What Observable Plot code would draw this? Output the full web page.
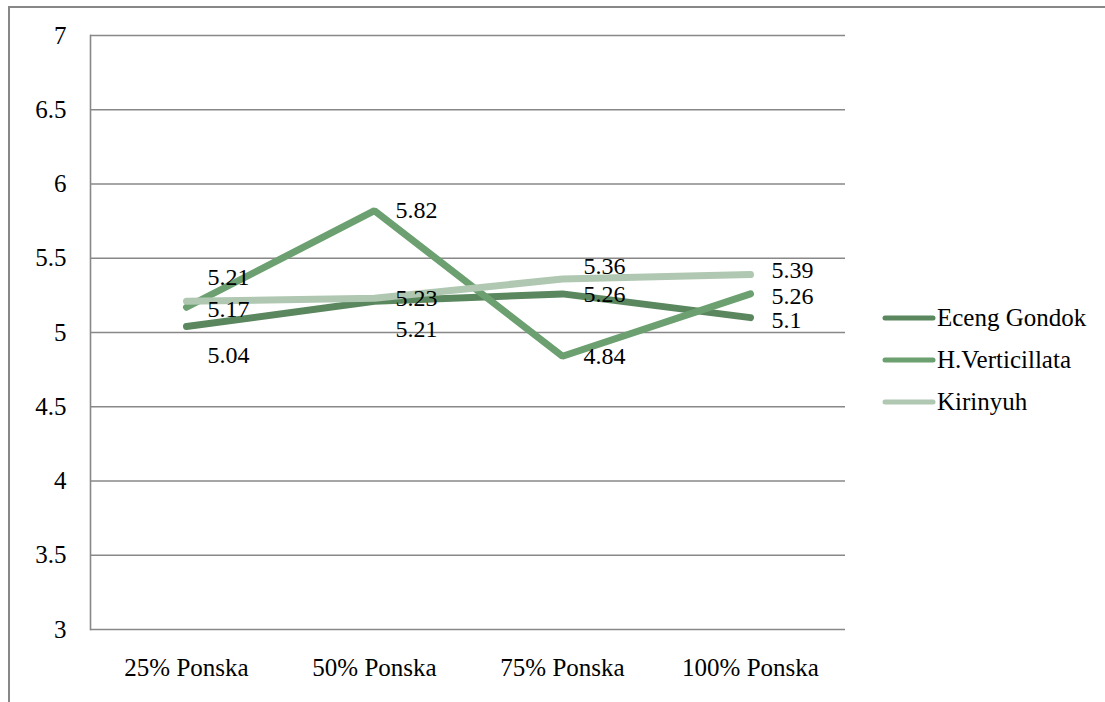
<!DOCTYPE html>
<html>
<head>
<meta charset="utf-8">
<script src="https://cdn.jsdelivr.net/npm/d3@7"></script>
<script src="https://cdn.jsdelivr.net/npm/@observablehq/plot@0.6"></script>
<style>
  html, body { margin: 0; padding: 0; background: #fff; overflow: hidden; }
  #wrap { position: relative; width: 1105px; height: 702px; font-family: "Times New Roman", Times, "Liberation Serif", "DejaVu Serif", "Noto Serif", serif; }
  #border { position: absolute; left: 8px; top: 6px; width: 1200px; height: 800px; border-left: 2px solid #888; border-top: 2px solid #888; box-sizing: border-box; }
  #chart { position: absolute; left: 0; top: 0; }
  #chart svg, #chart svg text { font-family: "Times New Roman", Times, "Liberation Serif", "DejaVu Serif", "Noto Serif", serif !important; }
  #legend { position: absolute; left: 882px; top: 297px; }
  .item { display: flex; align-items: center; height: 42px; font-size: 25px; color: #000; }
  .item svg { margin-right: 1px; }
</style>
</head>
<body>
<div id="wrap">
  <div id="border"></div>
  <div id="chart"></div>
  <div id="legend"></div>
</div>
<script>
const categories = ["25% Ponska", "50% Ponska", "75% Ponska", "100% Ponska"];
const seriesNames = ["Eceng Gondok", "H.Verticillata", "Kirinyuh"];
const ecengGondok = [5.04, 5.21, 5.26, 5.1];
const hVerticillata = [5.17, 5.82, 4.84, 5.26];
const kirinyuh = [5.21, 5.23, 5.36, 5.39];
const yTicks = [3, 3.5, 4, 4.5, 5, 5.5, 6, 6.5, 7];
const colors = ["#5b875f", "#6ca070", "#b0c8b2"];

const seriesValues = [ecengGondok, hVerticillata, kirinyuh];
const rows = [];
seriesNames.forEach((s, i) => {
  categories.forEach((c, j) => rows.push({series: s, category: c, value: seriesValues[i][j]}));
});

// label nudges (pixels) to mimic the reference's hand-placed data labels
const nudge = {
  "Kirinyuh|25% Ponska": -24,
  "H.Verticillata|25% Ponska": 2,
  "Eceng Gondok|25% Ponska": 29,
  "Eceng Gondok|50% Ponska": 28,
  "Kirinyuh|75% Ponska": -13,
  "Kirinyuh|100% Ponska": -4,
  "H.Verticillata|100% Ponska": 2,
  "Eceng Gondok|100% Ponska": 3
};

const font = "'Times New Roman', Times, 'Liberation Serif', 'DejaVu Serif', 'Noto Serif', serif";
const fs = 25;

const chart = Plot.plot({
  width: 1105,
  height: 702,
  marginLeft: 90,
  marginRight: 260,
  marginTop: 35,
  marginBottom: 73,
  style: {fontFamily: font, fontSize: fs + "px", color: "#000", background: "transparent"},
  x: {type: "band", domain: categories, padding: 0, label: null},
  y: {domain: [3, 7], label: null},
  color: {domain: seriesNames, range: colors},
  marks: [
    Plot.gridY(yTicks, {stroke: "#888", strokeOpacity: 1, strokeWidth: 1.6}),
    Plot.frame({anchor: "left", stroke: "#888", strokeWidth: 1.6}),
    Plot.axisY({ticks: yTicks, tickSize: 0, tickPadding: 24, tickFormat: d => String(d), fontSize: fs, fill: "#000"}),
    Plot.axisX({tickSize: 0, tickPadding: 29, fontSize: fs, fill: "#000"}),
    ...seriesNames.map((s, i) =>
      Plot.line(rows.filter(r => r.series === s), {
        x: "category", y: "value", stroke: colors[i], strokeWidth: 7,
        strokeLinecap: "round", strokeLinejoin: "miter"
      })
    ),
    ...rows.map(r => Plot.text([r], {
      x: "category", y: "value", text: d => String(d.value),
      textAnchor: "start", dx: 21, dy: nudge[r.series + "|" + r.category] || 0,
      fontSize: 24, fill: "#000"
    }))
  ]
});
document.getElementById("chart").appendChild(chart);

const legend = document.getElementById("legend");
seriesNames.forEach((s, i) => {
  const div = document.createElement("div");
  div.className = "item";
  div.innerHTML = `<svg width="54" height="10"><line x1="3" y1="5" x2="51" y2="5" stroke="${colors[i]}" stroke-width="5" stroke-linecap="round"/></svg><span>${s}</span>`;
  legend.appendChild(div);
});
</script>
</body>
</html>
